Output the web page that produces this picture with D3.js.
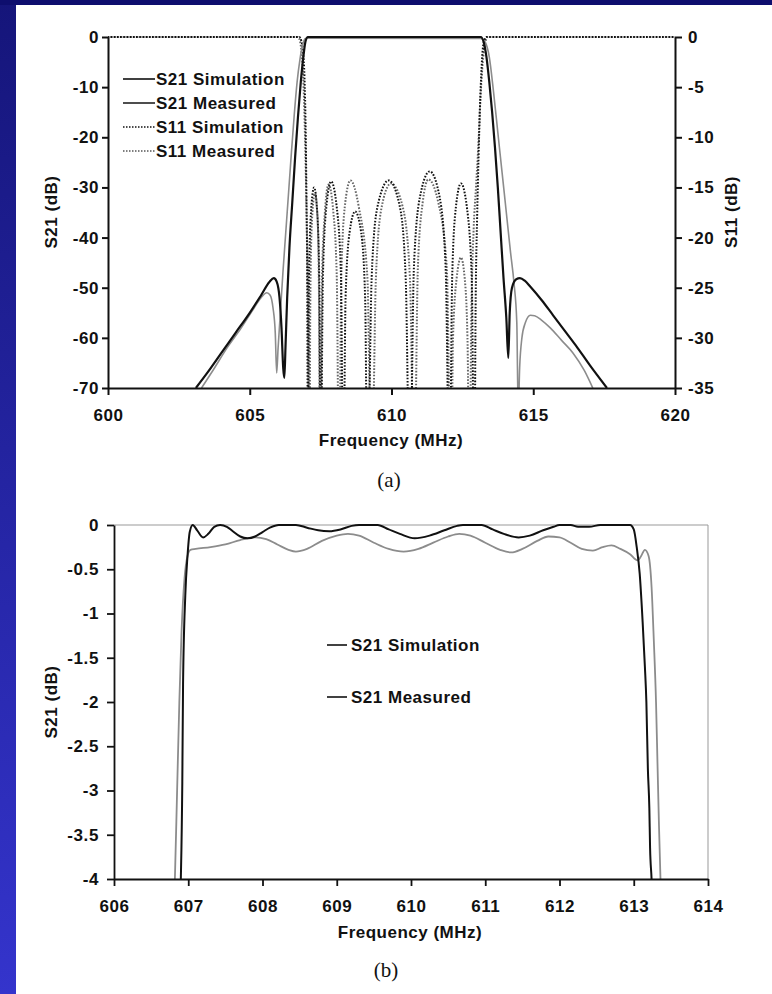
<!DOCTYPE html>
<html><head><meta charset="utf-8">
<script src="https://cdn.jsdelivr.net/npm/d3@7"></script>
<style>html,body{margin:0;padding:0;background:#fff}svg{display:block}
.tk text{font-family:"Liberation Sans",Arial,sans-serif;font-weight:bold;font-size:17px;fill:#111;letter-spacing:0.6px}
.ttl{font-family:"Liberation Sans",Arial,sans-serif;font-weight:bold;font-size:17px;fill:#111;letter-spacing:0.5px}
.cap{font-family:"Liberation Serif","Times New Roman",serif;font-size:21px;fill:#111}
</style>
</head><body>
<script>
// ---------- DATA ----------
// Chart (a)
const aFreqTicks = [600, 605, 610, 615, 620];
const aS21Ticks = [0, -10, -20, -30, -40, -50, -60, -70];
const aS11Ticks = [0, -5, -10, -15, -20, -25, -30, -35];
const aLegend = ["S21 Simulation", "S21 Measured", "S11 Simulation", "S11 Measured"];

const aS21Sim = [[603.1,-70],[603.5,-67],[604.0,-63],[604.5,-59],[605.0,-55],[605.4,-51.5],[605.7,-48.8],[605.85,-48.1],[605.95,-48.8],[606.05,-52],[606.12,-58],[606.18,-66],[606.22,-68],[606.26,-62],[606.32,-52],[606.4,-42],[606.5,-33],[606.6,-24],[606.7,-16],[606.8,-9],[606.9,-3.5],[606.97,-0.8],[607.05,0],[613.15,0],[613.25,-1],[613.35,-4],[613.45,-9],[613.55,-15],[613.65,-22],[613.75,-30],[613.85,-39],[613.95,-48],[614.05,-56],[614.12,-64],[614.17,-55],[614.25,-50],[614.4,-48.3],[614.53,-48.1],[614.7,-48.6],[614.9,-49.8],[615.3,-52.5],[615.7,-55.5],[616.1,-58.5],[616.5,-61.5],[617.0,-65.5],[617.6,-70]];
const aS21Meas = [[603.3,-70],[603.7,-66.5],[604.2,-62],[604.7,-58],[605.1,-54.5],[605.4,-52],[605.6,-51],[605.72,-51.5],[605.82,-54],[605.9,-59],[605.95,-67],[606.0,-62],[606.08,-55],[606.17,-47],[606.27,-39],[606.37,-31],[606.47,-23],[606.57,-15.5],[606.67,-9],[606.77,-4.5],[606.87,-1.5],[606.96,-0.3],[607.05,-0.25],[613.15,-0.3],[613.3,-1],[613.45,-4],[613.6,-11],[613.75,-19],[613.9,-27],[614.05,-35],[614.2,-43],[614.32,-49],[614.42,-57],[614.47,-75],[614.52,-66],[614.6,-60],[614.72,-57],[614.9,-55.5],[615.05,-55.6],[615.3,-56.5],[615.6,-58],[616.0,-60.5],[616.4,-63],[616.8,-66.5],[617.1,-70]];
const aS11Sim = [[600,0],[606.75,0],[606.82,-0.4],[606.88,-1.5],[606.93,-4],[606.97,-9],[607.0,-16],[607.03,-26],[607.05,-45],
 [607.09,-24],[607.16,-17.5],[607.27,-15],[607.38,-17.5],[607.45,-24],[607.5,-45],
 [607.58,-24],[607.7,-17],[607.87,-14.4],[608.07,-17],[608.22,-24],[608.3,-45],
 [608.38,-26],[608.52,-19.5],[608.72,-17.4],[608.93,-19.5],[609.07,-26],[609.15,-45],
 [609.3,-24],[609.5,-17],[609.9,-14.3],[610.3,-17],[610.5,-24],[610.65,-45],
 [610.79,-23],[611.0,-16],[611.35,-13.4],[611.7,-16],[611.91,-23],[612.05,-45],
 [612.14,-24],[612.27,-17],[612.45,-14.6],[612.66,-17],[612.83,-24],[612.92,-45],
 [612.97,-26],[613.02,-18],[613.07,-12],[613.12,-7],[613.17,-3.5],[613.22,-1.2],[613.28,-0.3],[613.35,0],[620,0]];
const aS11Meas = [[600,0],[606.7,0],[606.78,-0.5],[606.84,-2],[606.9,-5],[606.95,-10],[607.0,-17],[607.05,-26],[607.1,-45],
 [607.14,-25],[607.2,-18],[607.3,-15.6],[607.39,-18],[607.44,-25],[607.48,-45],
 [607.55,-24],[607.65,-17.5],[607.78,-14.7],[607.95,-17.5],[608.07,-24],[608.15,-45],
 [608.23,-24],[608.35,-17],[608.55,-14.3],[608.85,-17],[609.15,-24],[609.3,-45],
 [609.45,-24],[609.65,-17],[609.98,-14.6],[610.4,-17],[610.65,-24],[610.8,-45],
 [610.93,-23],[611.1,-16.5],[611.3,-14.2],[611.65,-16.5],[611.95,-23],[612.1,-45],
 [612.17,-30],[612.3,-24],[612.45,-22],[612.58,-24],[612.68,-30],[612.75,-45],
 [612.82,-27],[612.9,-19],[612.98,-15],[613.06,-11],[613.14,-6],[613.22,-2.5],[613.3,-0.6],[613.4,0],[620,0]];

// Chart (b)
const bFreqTicks = [606, 607, 608, 609, 610, 611, 612, 613, 614];
const bS21Ticks = [0, -0.5, -1, -1.5, -2, -2.5, -3, -3.5, -4];
const bLegend = ["S21 Simulation", "S21 Measured"];
const bS21Sim = [[606.88,-4.5],[606.9,-4],[606.92,-2.9],[606.93,-1.8],[606.96,-0.8],[606.99,-0.35],[607.02,-0.08],[607.06,0],[607.12,-0.06],[607.2,-0.14],[607.27,-0.1],[607.35,-0.02],[607.43,0],[607.52,-0.02],[607.6,-0.07],[607.7,-0.13],[607.8,-0.15],[607.9,-0.13],[608.0,-0.08],[608.1,-0.03],[608.22,0],[608.45,0],[608.6,-0.03],[608.75,-0.06],[608.9,-0.07],[609.05,-0.05],[609.2,-0.01],[609.3,0],[609.55,0],[609.7,-0.05],[609.85,-0.1],[610.05,-0.15],[610.25,-0.12],[610.45,-0.06],[610.62,-0.01],[610.7,0],[610.95,0],[611.1,-0.05],[611.25,-0.1],[611.45,-0.14],[611.6,-0.12],[611.78,-0.06],[611.92,-0.02],[612.0,0],[612.15,0],[612.25,-0.02],[612.4,-0.02],[612.55,0],[612.95,0],[613.0,-0.05],[613.04,-0.25],[613.08,-0.55],[613.12,-1.1],[613.15,-1.6],[613.17,-2.0],[613.19,-2.75],[613.21,-3.2],[613.22,-3.65],[613.24,-4],[613.26,-4.5]];
const bS21Meas = [[606.8,-4.5],[606.82,-4],[606.85,-3],[606.88,-2],[606.91,-1.2],[606.95,-0.6],[606.99,-0.35],[607.03,-0.28],[607.1,-0.27],[607.3,-0.25],[607.5,-0.22],[607.7,-0.17],[607.9,-0.14],[608.05,-0.16],[608.2,-0.22],[608.35,-0.28],[608.45,-0.3],[608.6,-0.27],[608.8,-0.18],[609.0,-0.12],[609.15,-0.1],[609.3,-0.12],[609.5,-0.2],[609.7,-0.27],[609.9,-0.3],[610.1,-0.27],[610.3,-0.2],[610.5,-0.13],[610.65,-0.1],[610.8,-0.12],[611.0,-0.2],[611.2,-0.28],[611.35,-0.31],[611.5,-0.27],[611.7,-0.18],[611.85,-0.13],[612.0,-0.14],[612.15,-0.2],[612.3,-0.27],[612.45,-0.29],[612.58,-0.25],[612.7,-0.23],[612.82,-0.27],[612.95,-0.33],[613.05,-0.4],[613.1,-0.35],[613.15,-0.28],[613.2,-0.35],[613.24,-0.7],[613.27,-1.3],[613.3,-2.0],[613.32,-2.7],[613.34,-3.4],[613.36,-4],[613.38,-4.5]];

// ---------- DRAW ----------
const W = 772, H = 994;
const svg = d3.select("body").append("svg").attr("width", W).attr("height", H);
const defs = svg.append("defs");
const grad = defs.append("linearGradient").attr("id","side").attr("x1",0).attr("y1",0).attr("x2",0).attr("y2",1);
grad.append("stop").attr("offset","0%").attr("stop-color","#15157a");
grad.append("stop").attr("offset","100%").attr("stop-color","#3434cc");
svg.append("rect").attr("width",W).attr("height",H).attr("fill","#fff");
svg.append("rect").attr("x",0).attr("y",0).attr("width",16).attr("height",H).attr("fill","url(#side)");
svg.append("rect").attr("x",0).attr("y",0).attr("width",W).attr("height",5).attr("fill","#0e0e6e");

const BLACK = "#111", GRAY = "#8c8c8c";
const fmt = d => String(d);

// ===== Chart (a) =====
const A = {x0:108, x1:675, y0:37, y1:388};
const xA = d3.scaleLinear().domain([600,620]).range([A.x0, A.x1]);
const yA = d3.scaleLinear().domain([-70,0]).range([A.y1, A.y0]);
const yA11 = d3.scaleLinear().domain([-35,0]).range([A.y1, A.y0]);

defs.append("clipPath").attr("id","clipA").append("rect")
  .attr("x",A.x0).attr("y",A.y0-4).attr("width",A.x1-A.x0).attr("height",A.y1-A.y0+4);
const plotA = svg.append("g").attr("clip-path","url(#clipA)");
const lineA21 = d3.line().x(d=>xA(d[0])).y(d=>yA(d[1])).curve(d3.curveMonotoneX);
const lineA11 = d3.line().x(d=>xA(d[0])).y(d=>yA11(d[1])).curve(d3.curveMonotoneX);

plotA.append("path").attr("d",lineA11(aS11Meas)).attr("fill","none").attr("stroke","#666").attr("stroke-width",2).attr("stroke-dasharray","1.6,1.6");
plotA.append("path").attr("d",lineA11(aS11Sim)).attr("fill","none").attr("stroke",BLACK).attr("stroke-width",2).attr("stroke-dasharray","1.6,1.6").attr("stroke-dashoffset",0.8);
plotA.append("path").attr("d",lineA21(aS21Meas)).attr("fill","none").attr("stroke",GRAY).attr("stroke-width",1.6);
plotA.append("path").attr("d",lineA21(aS21Sim)).attr("fill","none").attr("stroke",BLACK).attr("stroke-width",2.2);

function styleAxis(g, w){
  g.select(".domain").attr("stroke",BLACK).attr("stroke-width",w);
  g.selectAll(".tick line").attr("stroke",BLACK).attr("stroke-width",w);
  g.attr("class","tk");
}
svg.append("g").attr("transform",`translate(${A.x0},0)`)
  .call(d3.axisLeft(yA).tickValues(aS21Ticks).tickFormat(fmt).tickSize(6).tickSizeOuter(0).tickPadding(3))
  .call(g=>styleAxis(g,2));
svg.append("g").attr("transform",`translate(${A.x1},0)`)
  .call(d3.axisRight(yA11).tickValues(aS11Ticks).tickFormat(fmt).tickSize(7).tickSizeOuter(0).tickPadding(6))
  .call(g=>styleAxis(g,2));
svg.append("g").attr("transform",`translate(0,${A.y1})`)
  .call(d3.axisBottom(xA).tickValues(aFreqTicks).tickFormat(fmt).tickSize(7).tickSizeOuter(0).tickPadding(14))
  .call(g=>styleAxis(g,2));

svg.append("text").attr("class","ttl").attr("x",391).attr("y",446).attr("text-anchor","middle").text("Frequency (MHz)");
svg.append("text").attr("class","ttl").attr("transform","translate(57,212) rotate(-90)").attr("text-anchor","middle").text("S21 (dB)");
svg.append("text").attr("class","ttl").attr("transform","translate(737,212) rotate(-90)").attr("text-anchor","middle").text("S11 (dB)");
svg.append("text").attr("class","cap").attr("x",389).attr("y",487).attr("text-anchor","middle").text("(a)");

const legA = svg.append("g");
const legAY = [79, 103, 127, 151];
const legAStyle = [
  {c:BLACK, dash:null}, {c:"#222", dash:null}, {c:BLACK, dash:"1.5,1.5"}, {c:"#555", dash:"1.5,1.5"}
];
aLegend.forEach((t,i)=>{
  legA.append("line").attr("x1",123).attr("x2",155).attr("y1",legAY[i]).attr("y2",legAY[i])
    .attr("stroke",legAStyle[i].c).attr("stroke-width",1.6).attr("stroke-dasharray",legAStyle[i].dash);
  legA.append("text").attr("class","ttl").attr("x",156).attr("y",legAY[i]).attr("dy","0.36em").text(t);
});

// ===== Chart (b) =====
const B = {x0:114, x1:708, y0:525, y1:879};
const xB = d3.scaleLinear().domain([606,614]).range([B.x0, B.x1]);
const yB = d3.scaleLinear().domain([-4,0]).range([B.y1, B.y0]);
defs.append("clipPath").attr("id","clipB").append("rect")
  .attr("x",B.x0).attr("y",B.y0-3).attr("width",B.x1-B.x0).attr("height",B.y1-B.y0+3);

svg.append("line").attr("x1",B.x0).attr("x2",B.x1).attr("y1",B.y0).attr("y2",B.y0).attr("stroke","#999").attr("stroke-width",1);
svg.append("line").attr("x1",B.x1).attr("x2",B.x1).attr("y1",B.y0).attr("y2",B.y1).attr("stroke","#999").attr("stroke-width",1);

const plotB = svg.append("g").attr("clip-path","url(#clipB)");
const lineB = d3.line().x(d=>xB(d[0])).y(d=>yB(d[1])).curve(d3.curveMonotoneX);
plotB.append("path").attr("d",lineB(bS21Meas)).attr("fill","none").attr("stroke",GRAY).attr("stroke-width",1.8);
plotB.append("path").attr("d",lineB(bS21Sim)).attr("fill","none").attr("stroke",BLACK).attr("stroke-width",2);

svg.append("g").attr("transform",`translate(${B.x0},0)`)
  .call(d3.axisLeft(yB).tickValues(bS21Ticks).tickFormat(fmt).tickSize(7).tickSizeOuter(0).tickPadding(8))
  .call(g=>styleAxis(g,1.8));
svg.append("g").attr("transform",`translate(0,${B.y1})`)
  .call(d3.axisBottom(xB).tickValues(bFreqTicks).tickFormat(fmt).tickSize(7).tickSizeOuter(0).tickPadding(14))
  .call(g=>styleAxis(g,1.8));

svg.append("text").attr("class","ttl").attr("x",410).attr("y",938).attr("text-anchor","middle").text("Frequency (MHz)");
svg.append("text").attr("class","ttl").attr("transform","translate(57,702) rotate(-90)").attr("text-anchor","middle").text("S21 (dB)");
svg.append("text").attr("class","cap").attr("x",386).attr("y",977).attr("text-anchor","middle").text("(b)");

const legBY = [645, 697];
bLegend.forEach((t,i)=>{
  svg.append("line").attr("x1",327).attr("x2",347).attr("y1",legBY[i]).attr("y2",legBY[i])
    .attr("stroke",BLACK).attr("stroke-width",1.6);
  svg.append("text").attr("class","ttl").attr("x",351).attr("y",legBY[i]).attr("dy","0.36em").text(t);
});
</script></body></html>
